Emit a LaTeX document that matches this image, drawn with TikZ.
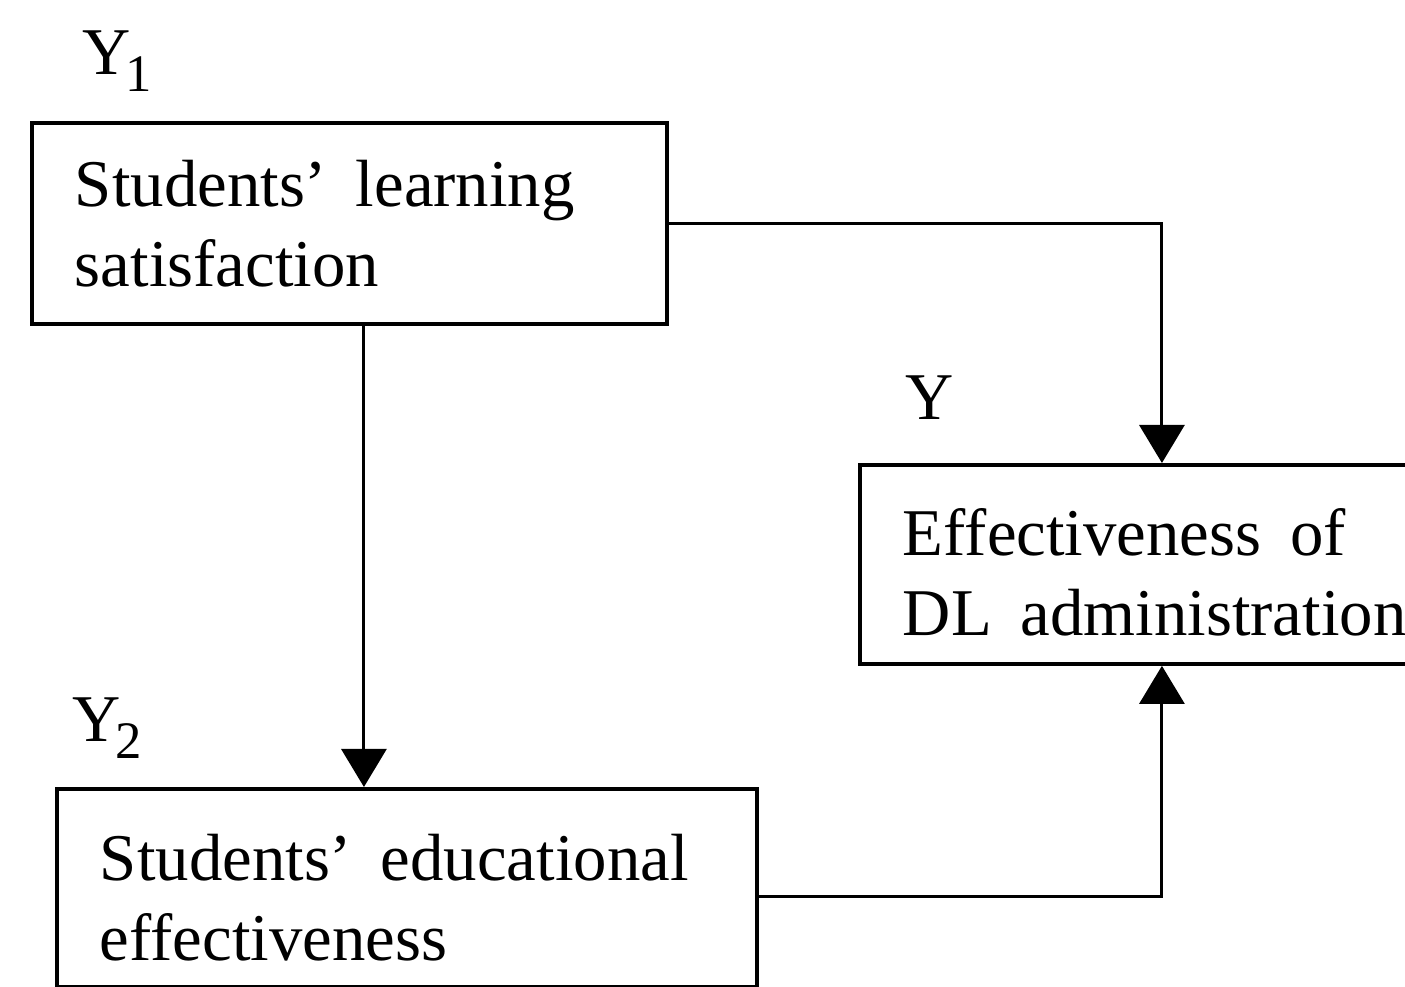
\documentclass[tikz,border=0pt]{standalone}
\usepackage{fontspec}
\setmainfont{Liberation Serif}
\usetikzlibrary{arrows.meta}
\newcommand\gap{\hspace{0.43em}}
\newcommand\varsub[1]{\kern-1.5pt\raisebox{-0.25em}{\fontsize{15pt}{15pt}\selectfont #1}}
\newcommand\toppad[1]{\rule{0pt}{#1}}
\begin{document}
\begin{tikzpicture}[
  box/.style = {draw, line width=1.1pt, align=left, anchor=north west, inner xsep=0.43cm, inner ysep=0pt},
  varlab/.style = {anchor=base west, inner sep=0pt},
  link/.style = {line width=0.85pt, -{Triangle[width=0.45cm, length=0.38cm]}},
  font=\fontsize{19pt}{22.8pt}\selectfont]
\useasboundingbox (0,0) rectangle (14.05,9.87);

\node[box, text width=5.49cm, minimum height=2.01cm] (satis) at (0.30,8.66) {Students'\gap learning\\satisfaction};
\node[box, text width=6.14cm, minimum height=1.98cm] (educ) at (0.55,2.00) {\toppad{18.8pt}Students'\gap educational\\effectiveness};
\node[box, text width=5.18cm, minimum height=1.99cm] (admin) at (8.58,5.24) {\toppad{17.7pt}Effectiveness\gap of\\DL\gap administration};

\node[varlab] (satislab) at ([xshift=0.52cm, yshift=0.46cm]satis.north west) {Y\varsub{1}};
\node[varlab] (educlab) at ([xshift=0.17cm, yshift=0.45cm]educ.north west) {Y\varsub{2}};
\node[varlab] (adminlab) at ([xshift=0.47cm, yshift=0.43cm]admin.north west) {Y};

\coordinate (drop) at ([xshift=0.145cm]satis.south);
\coordinate (feed) at ([yshift=-0.09cm]educ.east);
\draw[link] (drop) -- (drop |- educ.north);
\draw[link] (satis.east) -| (admin.north);
\draw[link] (feed) -| (admin.south);
\end{tikzpicture}
\end{document}
